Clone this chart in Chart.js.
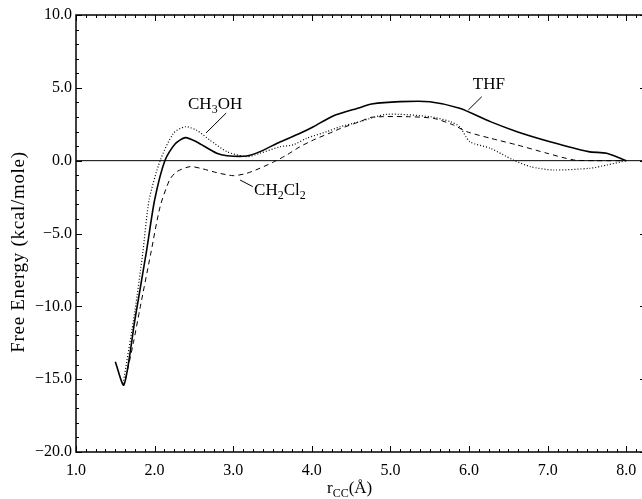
<!DOCTYPE html>
<html><head><meta charset="utf-8">
<style>html,body{margin:0;padding:0;overflow:hidden;background:#fff;width:642px;height:499px}canvas{display:block}</style>
<script src="https://cdn.jsdelivr.net/npm/chart.js@4"></script>
</head><body>
<canvas id="c" width="650" height="499"></canvas>
<script>
// ---- data ----
const rTHF = [1.50, 1.61, 1.75, 1.90, 2.00, 2.13, 2.26, 2.39, 2.53, 2.79, 2.92, 3.17, 3.34, 3.60, 3.85, 4.02, 4.27, 4.61, 4.76, 5.12, 5.50, 5.88, 6.27, 6.61, 7.03, 7.52, 7.75, 8.00];
const gTHF = [-13.8, -15.4, -10.9, -6.1, -2.7, 0.0, 1.15, 1.58, 1.30, 0.51, 0.34, 0.32, 0.62, 1.30, 1.88, 2.33, 3.07, 3.64, 3.89, 4.05, 4.05, 3.60, 2.68, 1.99, 1.30, 0.62, 0.51, 0.0];

const rMeOH = [1.60, 1.75, 1.85, 1.93, 2.07, 2.24, 2.39, 2.53, 2.70, 2.92, 3.17, 3.34, 3.60, 3.76, 3.93, 4.19, 4.36, 4.61, 4.95, 5.50, 5.76, 5.88, 6.01, 6.27, 6.56, 6.78, 7.07, 7.54, 7.75, 8.00];
const gMeOH = [-15.3, -10.3, -6.3, -2.7, 0.0, 1.88, 2.33, 2.10, 1.42, 0.62, 0.27, 0.51, 0.96, 1.08, 1.53, 1.99, 2.33, 2.68, 3.18, 3.02, 2.68, 2.33, 1.30, 0.85, 0.05, -0.41, -0.64, -0.52, -0.30, 0.0];

const rDCM = [1.63, 1.73, 1.81, 1.95, 2.07, 2.19, 2.28, 2.45, 2.58, 2.79, 3.00, 3.17, 3.34, 3.51, 3.68, 3.85, 4.02, 4.27, 4.36, 4.61, 4.76, 5.21, 5.55, 5.80, 5.97, 6.27, 6.61, 6.99, 7.33, 7.60, 8.00];
const gDCM = [-15.0, -12.5, -10.25, -6.4, -3.16, -1.33, -0.76, -0.41, -0.52, -0.82, -1.03, -0.87, -0.52, -0.10, 0.39, 0.96, 1.42, 1.99, 2.20, 2.68, 2.98, 3.02, 2.90, 2.45, 1.99, 1.54, 1.08, 0.51, 0.05, 0.0, 0.0];

const zeroR = [1.0, 8.25];
const zeroG = [0, 0];

const xTicks = [1, 2, 3, 4, 5, 6, 7, 8];
const yTicks = [10, 5, 0, -5, -10, -15, -20];

// ---- helpers ----
const FONT = '"Liberation Serif", "DejaVu Serif", "Times New Roman", serif';
const pts = (xs, ys) => xs.map((x, i) => ({x: x, y: ys[i]}));
const fmt = v => (v < 0 ? '\u2212' : '') + Math.abs(v).toFixed(1);

const framePlugin = {
  id: 'frame',
  afterDraw(chart) {
    const ctx = chart.ctx, xs = chart.scales.x, ys = chart.scales.y;
    const L = xs.left, R = xs.right, T = ys.top, B = ys.bottom;
    ctx.save();
    ctx.strokeStyle = '#000';
    ctx.lineWidth = 1.5;
    ctx.beginPath();
    ctx.moveTo(L, T); ctx.lineTo(R, T); ctx.lineTo(R, B); ctx.lineTo(L, B); ctx.closePath();
    ctx.stroke();
    ctx.lineWidth = 1;
    ctx.beginPath();
    // x minor/major ticks (bottom and top, inward)
    for (let k = 0; k * 0.125 + 1 <= 8.25 + 1e-9; k++) {
      const v = 1 + k * 0.125;
      const px = Math.round(xs.getPixelForValue(v)) + 0.5;
      const len = (k % 8 === 0) ? 6 : 3;
      ctx.moveTo(px, B); ctx.lineTo(px, B - len);
      ctx.moveTo(px, T); ctx.lineTo(px, T + len);
    }
    // y ticks (left and right, inward)
    for (let v = -20; v <= 10; v += 1) {
      const py = Math.round(ys.getPixelForValue(v)) + 0.5;
      const len = (v % 5 === 0) ? 6 : 3;
      ctx.moveTo(L, py); ctx.lineTo(L + len, py);
      ctx.moveTo(R, py); ctx.lineTo(R - len, py);
    }
    ctx.stroke();

    // annotations
    ctx.fillStyle = '#000';
    ctx.textBaseline = 'alphabetic';
    ctx.textAlign = 'left';
    const P = (x, y) => [xs.getPixelForValue(x), ys.getPixelForValue(y)];
    function rich(parts, x, y) {
      let cx = x;
      for (const [t, sub] of parts) {
        ctx.font = (sub ? '12px ' : '17px ') + FONT;
        ctx.fillText(t, cx, y + (sub ? 4 : 0));
        cx += ctx.measureText(t).width;
      }
    }
    function leader(a, b) {
      const p = P(a[0], a[1]), q = P(b[0], b[1]);
      ctx.beginPath(); ctx.moveTo(p[0], p[1]); ctx.lineTo(q[0], q[1]); ctx.stroke();
    }
    let p = P(2.425, 3.55);
    rich([['CH', 0], ['3', 1], ['OH', 0]], p[0], p[1]);
    leader([2.91, 3.27], [2.654, 1.90]);
    p = P(3.265, -2.35);
    rich([['CH', 0], ['2', 1], ['Cl', 0], ['2', 1]], p[0], p[1]);
    leader([3.087, -1.33], [3.248, -1.78]);
    p = P(6.047, 4.9);
    rich([['THF', 0]], p[0], p[1]);
    leader([6.161, 4.39], [5.99, 3.48]);

    // axis titles
    rich([['r', 0], ['CC', 1], ['(\u00C5)', 0]], 327, 493);
    ctx.save();
    ctx.translate(24, 252);
    ctx.rotate(-Math.PI / 2);
    ctx.textAlign = 'center';
    ctx.font = '19px ' + FONT;
    try { ctx.letterSpacing = '0.7px'; } catch (e) {}
    ctx.fillText('Free Energy (kcal/mole)', 0, 0);
    ctx.restore();
    ctx.restore();
  }
};

const tickFont = {family: FONT, size: 16};
new Chart(document.getElementById('c'), {
  type: 'line',
  data: {
    datasets: [
      {label: 'zero', data: pts(zeroR, zeroG), borderColor: '#000', borderWidth: 1, pointRadius: 0, tension: 0},
      {label: 'THF', data: pts(rTHF, gTHF), borderColor: '#000', borderWidth: 1.6, pointRadius: 0, tension: 0.25},
      {label: 'CH3OH', data: pts(rMeOH, gMeOH), borderColor: '#000', borderWidth: 1.2, borderDash: [1, 2], pointRadius: 0, tension: 0.25},
      {label: 'CH2Cl2', data: pts(rDCM, gDCM), borderColor: '#000', borderWidth: 1, borderDash: [5, 4], pointRadius: 0, tension: 0.25}
    ]
  },
  options: {
    responsive: false, animation: false, devicePixelRatio: 1,
    layout: {padding: {left: 0, top: 15, right: 4, bottom: 0}},
    plugins: {legend: {display: false}, tooltip: {enabled: false}},
    scales: {
      x: {
        type: 'linear', min: 1, max: 8.25,
        afterBuildTicks: s => { s.ticks = xTicks.map(v => ({value: v})); },
        afterFit: s => { s.height = 47; },
        grid: {display: false, drawTicks: false}, border: {display: false},
        ticks: {padding: 9, color: '#000', font: tickFont, callback: v => fmt(v), maxRotation: 0, autoSkip: false}
      },
      y: {
        type: 'linear', min: -20, max: 10,
        afterBuildTicks: s => { s.ticks = yTicks.map(v => ({value: v})); },
        afterFit: s => { s.width = 76; },
        grid: {display: false, drawTicks: false}, border: {display: false},
        ticks: {padding: 4, color: '#000', font: tickFont, callback: v => fmt(v), autoSkip: false}
      }
    }
  },
  plugins: [framePlugin]
});
</script>
</body></html>
